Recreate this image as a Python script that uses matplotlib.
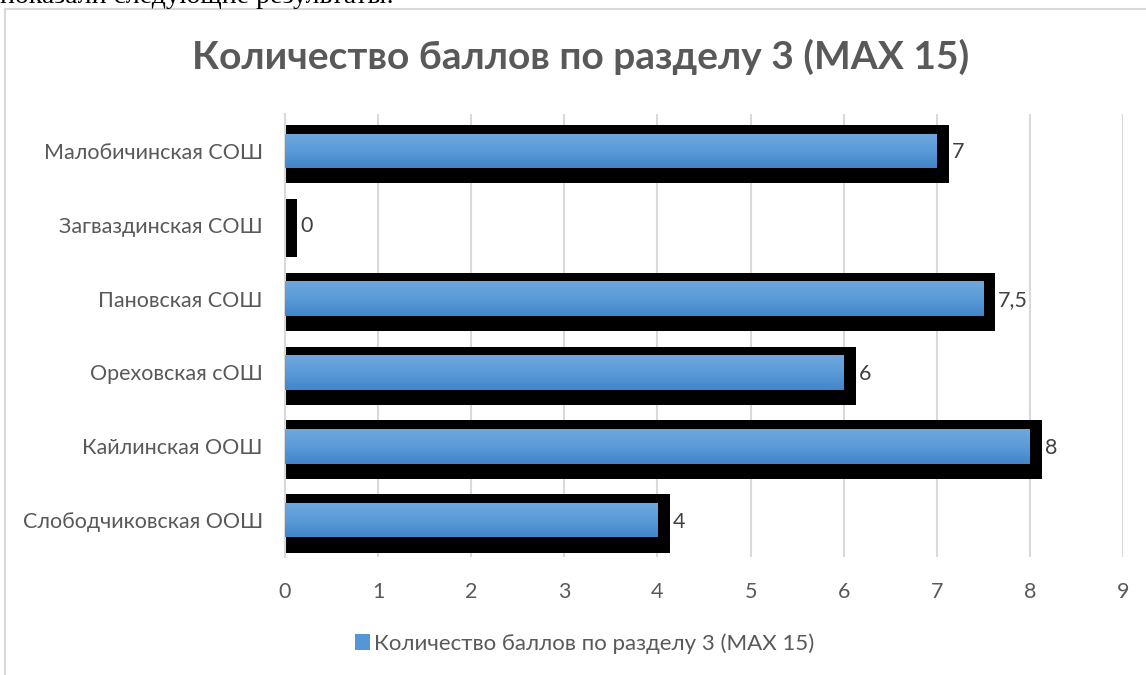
import numpy as np
import matplotlib.pyplot as plt
from matplotlib.colors import LinearSegmentedColormap
from matplotlib.lines import Line2D
from matplotlib.patches import Patch

plt.rcParams['font.family'] = ['Lato', 'DejaVu Sans']

title = 'Количество баллов по разделу 3 (MAX 15)'
series_name = 'Количество баллов по разделу 3 (MAX 15)'
schools = ['Малобичинская СОШ', 'Загваздинская СОШ', 'Пановская СОШ',
           'Ореховская сОШ', 'Кайлинская ООШ', 'Слободчиковская ООШ']
scores = [7, 0, 7.5, 6, 8, 4]
score_labels = ['7', '0', '7,5', '6', '8', '4']
xticks = list(range(0, 10))

grey = '#595959'
fig = plt.figure(figsize=(11.46, 6.75), dpi=100)
ax = fig.add_axes([0.2487, 0.1748, 0.7312, 0.6563])

y = np.arange(len(schools))
vals = np.array(scores, dtype=float)

# black frame / shadow behind the bars
ax.barh(y + 0.045, vals + 0.13, height=0.79, color='black', zorder=2)
bars = ax.barh(y, vals, height=0.47, color='#5b9bd5', zorder=3)

# vertical gradient on the blue bars
cmap = LinearSegmentedColormap.from_list('bl', ['#6fa7dd', '#5a9bd8', '#4285c9'])
grad = np.linspace(0, 1, 64).reshape(-1, 1)
for b in bars:
    x0, y0, w, h = b.get_x(), b.get_y(), b.get_width(), b.get_height()
    if w <= 0:
        continue
    im = ax.imshow(grad, extent=[x0, x0 + w, y0 + h, y0], origin='upper',
                   aspect='auto', cmap=cmap, zorder=4)
    im.set_clip_path(b)

for v, yy, lab in zip(vals, y, score_labels):
    ax.annotate(lab, xy=(v + 0.13, yy + 0.02), xytext=(2, 0), textcoords='offset points',
                va='center', ha='left', fontsize=15.5, color='#404040')

ax.set_xlim(0, 9)
ax.set_ylim(len(schools) - 0.5, -0.5)
ax.set_xticks(xticks)
ax.set_yticks(y)
ax.set_yticklabels(schools)
ax.tick_params(axis='both', length=0, labelsize=15.5, labelcolor=grey)
ax.tick_params(axis='y', pad=16)
ax.tick_params(axis='x', pad=18)
ax.grid(axis='x', color='#d9d9d9', linewidth=1.5, zorder=0)
ax.set_axisbelow(True)
for s in ['top', 'right', 'bottom']:
    ax.spines[s].set_visible(False)
ax.spines['left'].set_color('#d9d9d9')
ax.spines['left'].set_linewidth(1.5)

fig.text(0.507, 0.9156, title, ha='center', va='center', fontsize=28,
         fontweight='bold', color=grey)

fig.legend(handles=[Patch(facecolor='#5596d6', label=series_name)],
           loc='center', bbox_to_anchor=(0.51, 0.047), frameon=False,
           fontsize=16, labelcolor=grey, handlelength=0.7, handleheight=0.7,
           handletextpad=0.15)

# chart container border and the cut-off document line above it
fig.add_artist(Line2D([5 / 1146, 5 / 1146], [0, 1 - 9 / 675], color='#d9d9d9', linewidth=1.5))
fig.add_artist(Line2D([5 / 1146, 1], [1 - 9 / 675, 1 - 9 / 675], color='#d9d9d9', linewidth=1.5))
fig.text(0.0, 1 - 3 / 675, 'показали следующие результаты:', ha='left', va='baseline',
         fontsize=20, family='Liberation Serif', color='black')

fig.savefig('out.png', dpi=100)
